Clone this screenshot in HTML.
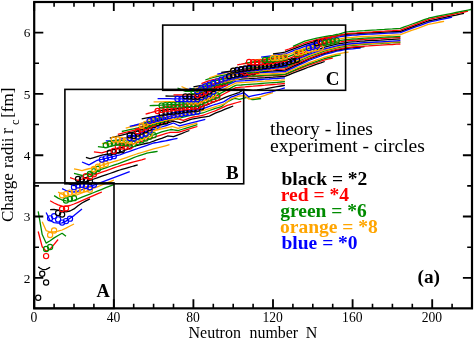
<!DOCTYPE html>
<html><head><meta charset="utf-8"><title>Charge radii</title>
<style>html,body{margin:0;padding:0;background:#fff}svg{display:block;will-change:transform;opacity:0.9999}</style></head>
<body>
<svg width="474" height="339" viewBox="0 0 474 339">
<rect width="474" height="339" fill="#fff"/>
<g fill="none" stroke-width="1.3" stroke-linejoin="round">
<path d="M38.2,266.9 L40.2,268.2 L42.2,269.3 L44.2,269.6 L46.1,269.3 L48.1,268.4 L50.1,267.2" stroke="#000000"/>
<path d="M38.2,231.5 L42.2,246.8 L46.1,251.1 L50.1,249.2 L54.1,244.4 L58.1,239.5" stroke="#ff0000"/>
<path d="M38.2,211.3 L42.2,234.6 L46.1,243.1 L50.1,240.7 L54.1,237.9 L58.1,235.5 L62.1,233.3 L66.0,236.3" stroke="#008b00"/>
<path d="M42.2,221.7 L46.1,230.6 L50.1,232.0 L54.1,231.8 L58.1,231.2 L62.1,230.0 L66.0,228.1 L70.0,226.0 L74.0,224.0" stroke="#ffa500"/>
<path d="M46.1,212.5 L50.1,220.5 L54.1,222.6 L58.1,223.2 L62.1,222.9 L66.0,221.1 L70.0,218.3 L74.0,215.6 L78.0,212.2 L82.0,208.9" stroke="#0000ff"/>
<path d="M50.1,209.7 L54.1,209.5 L58.1,210.1 L62.1,211.0 L66.0,211.8 L70.0,211.0 L74.0,208.9 L78.0,205.8 L82.0,203.0 L85.9,200.9 L89.9,198.9" stroke="#000000"/>
<path d="M50.1,200.8 L54.1,203.0 L58.1,204.9 L62.1,206.1 L66.0,206.4 L70.0,205.5 L74.0,204.0 L78.0,202.3 L82.0,200.6 L85.9,198.9 L89.9,197.1 L93.9,195.4 L97.9,193.7 L101.9,192.0" stroke="#ff0000"/>
<path d="M54.1,195.6 L58.1,198.1 L62.1,200.0 L66.0,200.9 L70.0,201.2 L74.0,200.3 L78.0,198.8 L82.0,197.2 L85.9,195.6 L89.9,194.1 L93.9,192.5 L97.9,190.9 L101.9,189.3 L105.8,187.7 L109.8,186.1 L113.8,184.6" stroke="#008b00"/>
<path d="M58.1,192.1 L62.1,194.2 L66.0,195.7 L70.0,196.3 L74.0,196.0 L78.0,194.5 L82.0,192.9 L85.9,191.4 L89.9,189.8 L93.9,188.2 L97.9,186.6 L101.9,185.0 L105.8,183.4 L109.8,181.8 L113.8,180.2" stroke="#ffa500"/>
<path d="M62.1,188.7 L66.0,190.5 L70.0,191.7 L74.0,192.0 L78.0,191.1 L82.0,189.7 L85.9,188.2 L89.9,186.7 L93.9,185.2 L97.9,183.7 L101.9,182.2 L105.8,180.7 L109.8,179.2 L113.8,177.7 L117.8,176.2 L121.8,174.7 L125.7,173.2 L129.7,171.7" stroke="#0000ff"/>
<path d="M66.0,182.5 L70.0,184.1 L74.0,185.6 L78.0,184.3 L82.0,183.0 L85.9,181.7 L89.9,180.4 L93.9,179.0 L97.9,177.6 L101.9,176.2 L105.8,174.9 L109.8,173.5 L113.8,172.1 L117.8,170.7 L119.8,170.0 L121.8,169.4 L125.7,168.3 L129.7,167.2 L133.7,166.0 L137.7,164.9" stroke="#000000"/>
<path d="M70.0,177.6 L74.0,179.0 L78.0,180.4 L82.0,179.1 L85.9,177.7 L89.9,176.4 L93.9,175.0 L97.9,173.6 L101.9,172.2 L105.8,170.8 L109.8,169.3 L113.8,167.9 L117.8,166.5 L119.8,165.8 L121.8,165.2 L125.7,164.1 L129.7,163.0 L133.7,161.9 L137.7,160.8 L141.7,159.8 L145.6,158.7" stroke="#ff0000"/>
<path d="M74.0,173.4 L78.0,174.4 L82.0,175.5 L85.9,174.3 L89.9,173.0 L93.9,171.7 L97.9,170.4 L101.9,169.1 L105.8,167.8 L109.8,166.5 L113.8,165.2 L117.8,163.9 L119.8,163.2 L121.8,162.4 L125.7,160.8 L129.7,159.3 L133.7,157.7 L136.7,156.5 L137.7,156.2 L141.7,154.9 L145.6,153.6 L146.8,153.2 L149.6,152.7 L153.6,152.0 L157.6,151.4" stroke="#008b00"/>
<path d="M74.0,168.8 L78.0,169.7 L82.0,170.6 L85.9,169.5 L89.9,168.5 L93.9,167.3 L97.9,166.2 L101.9,165.1 L105.8,164.0 L109.8,162.8 L113.8,161.6 L117.8,160.5 L119.8,159.9 L121.8,159.2 L125.7,157.8 L129.7,156.4 L133.7,155.0 L136.7,154.0 L137.7,153.7 L141.7,152.5 L145.6,151.3 L149.6,150.1 L153.6,148.9 L157.6,147.8 L161.6,146.8 L165.5,145.8 L169.5,144.7" stroke="#ffa500"/>
<path d="M82.0,162.0 L85.9,163.7 L88.9,164.9 L89.9,164.4 L93.9,162.1 L96.7,160.5 L97.9,160.2 L101.9,159.3 L105.8,158.3 L109.8,157.3 L113.8,156.3 L117.8,155.3 L119.8,154.8 L121.8,154.1 L125.7,152.7 L129.7,151.3 L133.7,149.9 L136.7,148.9 L137.7,148.5 L141.7,147.1 L145.6,145.8 L149.6,144.4 L153.6,143.0 L157.6,142.3 L161.6,141.5 L165.5,140.8 L167.1,140.5 L169.5,140.0 L173.5,139.2 L177.5,138.4" stroke="#0000ff"/>
<path d="M85.9,157.3 L89.9,158.6 L90.3,158.7 L93.9,157.6 L97.9,156.4 L101.9,155.2 L103.1,154.8 L105.8,154.4 L109.8,153.8 L113.8,153.2 L117.8,152.6 L119.8,152.3 L121.8,151.5 L125.7,149.9 L129.7,148.3 L133.7,146.7 L136.7,145.5 L137.7,145.3 L141.7,144.4 L145.6,143.5 L149.6,142.6 L149.8,142.5 L153.6,141.2 L157.6,139.7 L161.6,138.3 L165.5,136.8 L167.5,136.0 L169.5,136.2 L173.5,136.6 L177.5,135.1 L181.5,133.6 L185.4,132.0 L189.4,130.5" stroke="#000000"/>
<path d="M93.9,151.9 L97.9,152.4 L101.9,152.9 L105.8,151.7 L109.8,150.6 L113.8,149.5 L117.8,148.3 L121.8,147.1 L125.7,146.0 L129.7,144.8 L133.7,143.6 L137.7,142.5 L141.7,141.3 L145.6,140.1 L149.6,139.0 L149.8,138.9 L153.6,137.6 L157.6,136.2 L161.6,134.8 L165.5,133.7 L169.5,132.5 L169.9,132.4 L173.5,132.4 L177.5,132.4 L178.1,132.4 L181.5,131.4 L185.4,130.1 L189.4,128.9 L193.4,127.7 L197.4,126.5" stroke="#ff0000"/>
<path d="M97.9,146.7 L101.9,147.2 L105.8,147.7 L109.8,146.7 L113.8,145.7 L117.8,144.6 L121.8,143.6 L125.7,142.6 L129.7,141.6 L133.7,140.5 L137.7,139.5 L141.7,138.5 L145.6,137.4 L149.6,136.4 L149.8,136.3 L153.6,134.9 L157.6,133.3 L161.6,131.8 L165.5,130.8 L169.5,129.9 L171.1,129.5 L173.5,129.9 L177.5,130.5 L178.1,130.6 L181.5,129.5 L185.4,128.3 L189.4,127.1 L193.4,125.9 L197.4,124.7" stroke="#008b00"/>
<path d="M101.9,143.4 L105.8,143.7 L109.8,144.0 L113.8,142.8 L117.8,141.6 L121.8,140.4 L125.7,139.2 L129.7,138.0 L133.7,136.8 L137.7,135.5 L141.7,134.3 L145.6,133.1 L149.6,131.9 L149.8,131.8 L153.6,130.9 L157.6,129.9 L161.6,128.9 L165.5,128.0 L169.5,127.1 L172.3,126.5 L173.5,126.9 L177.5,128.1 L178.1,128.3 L181.5,127.4 L185.4,126.3 L189.4,125.2 L193.4,124.1 L197.4,123.0" stroke="#ffa500"/>
<path d="M105.8,140.8 L109.8,141.0 L113.8,141.2 L117.8,140.1 L121.8,138.9 L125.7,137.7 L129.7,136.6 L133.7,135.4 L137.7,134.2 L141.7,133.0 L145.6,131.8 L149.6,130.6 L153.6,129.4 L157.6,128.2 L161.6,127.0 L165.1,125.9 L165.5,125.8 L169.5,124.4 L173.5,123.0 L177.5,125.0 L179.5,125.9 L181.5,125.4 L185.4,124.4 L189.4,123.4 L193.4,122.4 L197.4,121.4 L201.4,120.4 L205.3,119.4" stroke="#0000ff"/>
<path d="M109.8,138.2 L113.8,137.2 L117.8,136.2 L121.8,135.1 L125.7,134.1 L129.7,133.0 L133.7,132.0 L137.7,130.9 L141.7,129.8 L145.6,128.8 L149.6,127.7 L153.6,126.6 L157.6,125.5 L161.6,124.5 L165.5,123.4 L169.5,122.3 L173.5,121.2 L177.5,122.2 L180.5,123.0 L181.5,122.6 L185.4,121.3 L189.4,119.9 L191.8,119.1 L193.4,118.8 L197.4,118.1 L201.4,117.4 L205.3,116.8 L209.3,116.1 L213.3,114.1 L215.3,113.1 L217.3,112.3 L221.3,110.8 L225.2,109.2 L229.2,107.6 L233.2,106.0" stroke="#000000"/>
<path d="M117.8,134.4 L121.8,133.4 L125.7,132.4 L129.7,131.3 L133.7,130.3 L137.7,129.3 L141.7,128.3 L145.6,127.2 L149.6,126.2 L153.6,125.2 L157.6,124.1 L161.6,123.1 L165.5,122.0 L169.5,121.0 L173.5,119.9 L177.5,118.9 L181.5,119.9 L183.4,120.4 L185.4,119.7 L189.4,118.2 L191.8,117.3 L193.4,117.0 L197.4,116.3 L201.4,115.6 L203.5,115.2 L205.3,114.5 L209.3,113.0 L213.3,111.5 L215.3,110.8 L217.3,109.9 L221.3,108.1 L225.2,106.3 L227.2,105.4 L229.2,104.8 L233.2,103.7 L237.2,102.5 L241.2,101.3" stroke="#ff0000"/>
<path d="M121.8,131.5 L125.7,130.6 L129.7,129.7 L133.7,128.8 L137.7,127.9 L141.7,126.9 L145.6,126.0 L149.6,125.1 L153.6,124.2 L157.6,123.2 L161.6,122.3 L165.5,121.4 L169.5,120.4 L173.5,119.5 L177.5,118.5 L181.5,117.6 L185.4,116.7 L189.4,115.7 L191.8,115.2 L193.4,114.8 L197.4,113.9 L201.4,113.1 L203.5,112.6 L205.3,112.0 L209.3,110.5 L213.3,109.1 L215.3,108.4 L217.3,107.8 L221.3,106.7 L225.2,103.5 L227.2,101.9 L229.2,100.9 L233.2,98.9 L234.2,98.4 L237.2,98.9 L239.2,99.3 L241.2,98.8 L245.1,97.8 L247.1,97.3 L249.1,98.2 L252.1,99.6 L253.1,99.5 L257.1,99.0 L261.1,98.5" stroke="#008b00"/>
<path d="M125.7,128.1 L129.7,127.2 L133.7,126.3 L137.7,125.4 L141.7,124.5 L145.6,123.7 L149.6,122.8 L153.6,121.9 L157.6,121.0 L161.6,120.0 L165.5,119.1 L169.5,118.2 L173.5,117.3 L177.5,116.4 L181.5,115.5 L185.4,114.6 L189.4,113.7 L191.8,113.1 L193.4,112.8 L197.4,111.9 L201.4,110.9 L203.5,110.4 L205.3,109.9 L209.3,108.6 L213.3,107.3 L215.3,106.7 L217.3,106.0 L221.3,104.8 L224.8,103.7 L225.2,103.4 L229.2,100.3 L230.8,99.0 L233.2,98.1 L237.2,96.7 L239.0,96.0 L241.2,95.9 L245.1,95.8 L248.7,99.1 L249.1,99.0 L253.1,98.3 L257.1,97.6 L259.1,97.3 L261.1,96.6 L265.0,95.3 L269.0,93.9 L273.0,92.6" stroke="#ffa500"/>
<path d="M129.7,126.4 L133.7,125.5 L137.7,124.5 L141.7,123.5 L145.6,122.6 L149.6,121.6 L153.6,120.6 L157.6,119.6 L161.6,118.6 L165.5,117.7 L169.5,116.7 L173.5,115.7 L177.5,114.7 L181.5,113.7 L185.4,112.7 L189.4,111.7 L191.8,111.1 L193.4,110.8 L197.4,109.8 L201.4,108.9 L203.5,108.4 L205.3,107.8 L209.3,106.4 L213.3,105.0 L215.3,104.3 L217.3,103.8 L221.3,102.6 L223.6,101.9 L225.2,100.9 L229.2,98.3 L230.8,97.2 L233.2,96.3 L237.2,94.9 L239.0,94.2 L241.2,93.6 L243.9,92.7 L245.1,93.7 L248.7,96.7 L249.1,96.6 L253.1,95.7 L257.1,94.9 L261.1,94.1 L265.0,93.2 L269.0,92.4 L271.0,92.0 L273.0,91.4 L277.0,90.2 L281.0,89.0 L284.9,87.8" stroke="#0000ff"/>
<path d="M141.7,118.8 L145.6,118.1 L149.6,117.3 L153.6,116.6 L157.6,115.9 L161.6,115.1 L165.5,114.4 L169.5,113.7 L173.5,112.9 L177.5,112.2 L181.5,111.5 L185.4,110.7 L189.4,110.0 L193.4,109.2 L197.4,108.5 L201.4,106.9 L205.3,105.4 L209.3,103.8 L213.3,102.2 L217.3,100.6 L220.1,99.6 L221.3,99.1 L225.2,97.4 L227.2,96.6 L229.2,95.9 L233.2,94.5 L237.2,93.1 L239.0,92.5 L241.2,91.2 L243.9,89.5 L245.1,89.6 L249.1,90.0 L253.1,90.4 L257.1,89.9 L261.1,89.3 L265.0,88.8 L269.0,88.1 L273.0,87.4 L277.0,86.7 L281.0,86.0 L284.9,85.4" stroke="#000000"/>
<path d="M145.6,114.1 L149.6,113.0 L153.6,111.8 L157.6,110.6 L161.6,110.2 L165.5,109.7 L169.5,109.3 L173.5,108.8 L177.5,108.4 L181.5,107.9 L185.4,107.4 L189.4,107.0 L193.4,106.5 L197.4,106.0 L201.4,104.3 L205.3,102.6 L209.3,100.9 L213.3,99.2 L217.3,97.5 L221.3,95.4 L225.2,93.3 L229.2,91.2 L233.2,89.0 L235.8,87.7 L237.2,87.6 L241.2,87.2 L245.1,86.9 L249.1,86.5 L253.1,86.2 L257.1,85.8 L261.1,85.5 L265.0,85.2 L269.0,84.8 L273.0,84.5 L277.0,84.2 L281.0,83.8 L284.9,83.5" stroke="#ff0000"/>
<path d="M149.6,105.7 L153.6,105.5 L157.6,105.3 L161.6,105.1 L165.5,104.9 L169.5,104.7 L173.5,104.5 L177.5,104.3 L181.5,104.1 L185.4,103.9 L189.4,103.7 L193.4,103.5 L197.4,103.3 L201.4,101.6 L205.3,100.0 L209.3,98.3 L213.3,96.7 L217.3,95.0 L221.3,92.9 L225.2,90.9 L229.2,88.8 L233.2,86.7 L235.8,85.4 L237.2,85.2 L241.2,85.0 L245.1,84.7 L249.1,84.4 L253.1,84.1 L257.1,83.8 L261.1,83.5 L265.0,83.2 L269.0,82.9 L273.0,82.6 L277.0,82.3 L281.0,82.0 L284.9,81.7" stroke="#008b00"/>
<path d="M153.6,101.9 L157.6,101.9 L161.6,101.8 L165.5,101.7 L169.5,101.7 L173.5,101.6 L177.5,101.5 L181.5,101.5 L185.4,101.4 L189.4,101.3 L193.4,101.2 L197.4,101.1 L201.4,99.5 L205.3,97.8 L209.3,96.1 L213.3,94.4 L217.3,92.4 L221.3,90.4 L225.2,88.3 L229.2,86.3 L233.2,84.3 L235.8,83.0 L237.2,82.9 L241.2,82.6 L245.1,82.4 L249.1,82.1 L253.1,81.8 L257.1,81.6 L261.1,81.3 L265.0,81.1 L269.0,80.8 L273.0,80.6 L277.0,80.3 L281.0,80.1 L284.9,79.8" stroke="#ffa500"/>
<path d="M157.6,98.6 L161.6,98.6 L165.5,98.7 L169.5,98.7 L173.5,98.8 L177.5,98.8 L181.5,98.9 L185.4,98.9 L189.4,98.9 L193.4,99.0 L197.4,99.0 L201.4,97.2 L205.3,95.3 L209.3,93.5 L213.3,91.7 L217.3,89.8 L221.3,88.0 L225.2,86.1 L229.2,84.2 L233.2,82.4 L235.8,81.2 L237.2,81.1 L241.2,80.8 L245.1,80.6 L249.1,80.3 L253.1,80.0 L257.1,79.8 L261.1,79.5 L265.0,79.2 L269.0,79.0 L273.0,78.7 L277.0,78.5 L281.0,78.2 L284.9,77.9" stroke="#0000ff"/>
<path d="M165.5,96.0 L169.5,96.1 L173.5,96.2 L177.5,96.2 L181.5,96.3 L185.4,96.4 L189.4,96.4 L193.4,96.5 L197.4,96.6 L201.4,94.8 L205.3,93.0 L209.3,91.2 L213.3,89.5 L217.3,87.7 L221.3,85.9 L225.2,84.1 L229.2,82.3 L233.2,80.6 L235.8,79.4 L237.2,79.3 L241.2,79.1 L245.1,78.8 L249.1,78.6 L253.1,78.3 L257.1,78.1 L261.1,77.8 L265.0,77.6 L269.0,77.3 L273.0,77.1 L277.0,76.8 L281.0,76.6 L284.9,76.4 L288.9,74.8 L292.9,73.2 L296.9,71.7 L300.9,70.1 L304.8,68.6 L308.8,67.0 L309.4,66.8 L312.8,65.6 L316.8,64.2 L320.8,62.9 L324.7,61.5" stroke="#000000"/>
<path d="M173.5,94.8 L177.5,94.8 L181.5,94.8 L185.4,94.8 L189.4,94.7 L193.4,94.7 L197.4,94.7 L201.4,93.1 L205.3,91.4 L209.3,89.7 L213.3,88.1 L217.3,86.4 L221.3,84.8 L225.2,83.1 L229.2,81.0 L233.2,78.9 L235.8,77.6 L237.2,77.5 L241.2,77.3 L245.1,77.1 L249.1,76.8 L253.1,76.6 L257.1,76.4 L261.1,76.2 L265.0,75.9 L269.0,75.7 L273.0,75.5 L277.0,75.3 L281.0,75.0 L284.9,74.8 L288.9,73.2 L292.9,71.5 L296.9,69.9 L300.9,68.3 L304.8,66.7 L308.8,65.2 L312.8,63.8 L316.8,62.5 L320.8,61.2 L324.7,59.9 L328.7,58.9 L332.7,58.0" stroke="#ff0000"/>
<path d="M177.5,88.0 L181.5,89.7 L185.4,91.4 L189.4,91.4 L193.4,91.4 L197.4,91.4 L201.4,89.9 L205.3,88.5 L209.3,87.1 L213.3,85.7 L217.3,84.3 L221.3,82.9 L225.2,81.4 L229.2,80.0 L233.2,78.9 L237.2,77.8 L241.2,76.7 L245.1,76.5 L249.1,76.2 L253.1,76.0 L257.1,75.8 L261.1,75.6 L265.0,75.4 L269.0,75.2 L273.0,75.0 L277.0,74.8 L281.0,74.6 L284.9,74.4 L288.9,72.6 L292.9,70.9 L296.9,69.1 L300.9,67.4 L304.8,65.8 L308.8,64.1 L312.8,62.7 L316.8,61.3 L320.8,59.9 L324.7,58.5 L328.7,57.5 L332.7,56.5 L336.7,55.5 L340.7,54.8" stroke="#008b00"/>
<path d="M181.5,86.5 L185.4,88.3 L189.4,90.1 L193.4,90.1 L197.4,90.1 L201.4,88.8 L205.3,87.4 L209.3,86.1 L213.3,84.8 L217.3,83.4 L221.3,82.1 L225.2,80.7 L229.2,79.4 L233.2,78.0 L237.2,76.7 L241.2,76.1 L245.1,75.4 L249.1,74.8 L253.1,74.6 L257.1,74.4 L261.1,74.2 L265.0,74.0 L269.0,73.8 L273.0,73.6 L277.0,73.4 L281.0,73.2 L284.9,73.0 L288.9,71.2 L292.9,69.5 L296.9,67.7 L300.9,66.1 L304.8,64.4 L308.8,62.7 L312.8,61.3 L316.8,59.9 L320.8,58.5 L324.7,57.1 L328.7,56.1 L332.7,55.1 L336.7,54.1 L340.7,53.4 L344.6,52.7 L348.6,52.2" stroke="#ffa500"/>
<path d="M189.4,88.3 L193.4,88.8 L197.4,89.2 L201.4,87.9 L205.3,86.7 L209.3,85.4 L213.3,84.1 L217.3,82.8 L221.3,81.6 L225.2,80.3 L229.2,79.0 L233.2,77.7 L237.2,76.5 L241.2,75.2 L245.1,73.9 L249.1,73.5 L253.1,73.1 L257.1,72.7 L261.1,72.5 L265.0,72.4 L269.0,72.2 L273.0,72.1 L277.0,71.9 L281.0,71.7 L284.9,71.6 L288.9,69.7 L292.9,67.8 L296.9,65.9 L300.9,64.1 L304.8,62.3 L308.8,60.5 L312.8,59.0 L316.8,57.5 L320.8,56.0 L324.7,54.4 L328.7,53.4 L332.7,52.3 L336.7,51.2 L340.7,50.5 L344.6,49.7 L348.6,49.1 L352.6,48.8 L356.6,48.4 L360.6,48.1" stroke="#0000ff"/>
<path d="M193.4,86.9 L197.4,86.2 L201.4,85.5 L205.3,84.2 L209.3,82.8 L213.3,81.5 L217.3,80.1 L221.3,78.8 L225.2,77.4 L229.2,76.1 L233.2,75.4 L237.2,74.7 L241.2,74.1 L245.1,73.4 L249.1,72.7 L253.1,72.1 L257.1,71.8 L261.1,71.6 L265.0,71.4 L269.0,71.1 L273.0,70.9 L277.0,70.6 L281.0,70.4 L284.9,70.2 L288.9,68.3 L292.9,66.4 L296.9,64.6 L300.9,62.8 L304.8,61.0 L308.8,59.2 L312.8,57.7 L316.8,56.2 L320.8,54.7 L324.7,53.3 L328.7,52.2 L332.7,51.1 L336.7,50.1 L340.7,49.3 L344.6,48.6 L348.6,48.0 L352.6,47.7 L356.6,47.3 L360.6,47.0 L364.5,46.7" stroke="#000000"/>
<path d="M201.4,83.7 L205.3,82.2 L209.3,80.6 L213.3,79.7 L217.3,78.8 L221.3,77.9 L225.2,77.0 L229.2,76.1 L233.2,75.1 L237.2,74.2 L241.2,73.3 L245.1,72.4 L249.1,71.9 L253.1,71.4 L257.1,70.9 L261.1,70.6 L265.0,70.3 L269.0,70.0 L273.0,69.7 L277.0,69.4 L281.0,69.1 L284.9,68.8 L288.9,67.0 L292.9,65.2 L296.9,63.4 L300.9,61.7 L304.8,60.0 L308.8,58.3 L312.8,56.8 L316.8,55.4 L320.8,53.9 L324.7,52.5 L328.7,51.4 L332.7,50.4 L336.7,49.4 L340.7,48.7 L344.6,47.9 L348.6,47.4 L352.6,47.0 L356.6,46.7 L360.6,46.4 L364.5,46.1 L368.5,45.9 L372.5,45.6 L376.5,45.4 L380.5,45.2 L384.4,44.9 L388.4,44.7 L392.4,44.5 L396.4,44.2 L400.4,44.0" stroke="#ff0000"/>
<path d="M205.3,80.0 L209.3,78.7 L213.3,77.3 L217.3,76.5 L221.3,75.7 L225.2,74.9 L229.2,74.2 L233.2,73.4 L237.2,72.6 L241.2,71.8 L245.1,71.0 L249.1,70.2 L253.1,69.8 L257.1,69.3 L261.1,68.9 L265.0,68.4 L269.0,68.2 L273.0,68.0 L277.0,67.8 L281.0,67.6 L284.9,67.4 L288.9,65.6 L292.9,63.8 L296.9,61.9 L300.9,60.2 L304.8,58.5 L308.8,56.7 L312.8,55.2 L316.8,53.8 L320.8,52.3 L324.7,50.8 L328.7,49.8 L332.7,48.8 L336.7,47.8 L340.7,47.0 L344.6,46.3 L348.6,45.7 L352.6,45.4 L356.6,45.0 L360.6,44.7 L364.5,44.4 L368.5,44.2 L372.5,43.9 L376.5,43.7 L380.5,43.5 L384.4,43.2 L388.4,43.0 L392.4,42.7 L396.4,42.5 L400.4,42.3" stroke="#008b00"/>
<path d="M209.3,77.9 L213.3,76.5 L217.3,75.1 L221.3,74.1 L225.2,73.1 L229.2,72.2 L233.2,71.2 L237.2,70.7 L241.2,70.3 L245.1,69.9 L249.1,69.4 L253.1,69.0 L257.1,68.6 L261.1,68.2 L265.0,67.7 L269.0,67.3 L273.0,66.9 L277.0,66.6 L281.0,66.3 L284.9,66.0 L288.9,64.2 L292.9,62.5 L296.9,60.7 L300.9,59.0 L304.8,57.3 L308.8,55.6 L312.8,54.2 L316.8,52.8 L320.8,51.4 L324.7,50.0 L328.7,49.0 L332.7,48.0 L336.7,47.0 L340.7,46.2 L344.6,45.5 L348.6,45.0 L352.6,44.7 L356.6,44.3 L360.6,44.0 L364.5,43.7 L368.5,43.5 L372.5,43.3 L376.5,43.0 L380.5,42.8 L384.4,42.6 L388.4,42.3 L392.4,42.1 L396.4,41.9 L400.4,41.7" stroke="#ffa500"/>
<path d="M217.3,74.2 L221.3,73.3 L225.2,72.4 L229.2,71.7 L233.2,71.0 L237.2,70.2 L241.2,69.8 L245.1,69.3 L249.1,68.8 L253.1,68.4 L257.1,67.9 L261.1,67.4 L265.0,67.0 L269.0,66.5 L273.0,66.0 L277.0,65.5 L281.0,65.1 L284.9,64.6 L288.9,62.9 L292.9,61.1 L296.9,59.4 L300.9,57.7 L304.8,56.1 L308.8,54.4 L312.8,53.0 L316.8,51.6 L320.8,50.2 L324.7,48.8 L328.7,47.9 L332.7,46.9 L336.7,45.9 L340.7,45.2 L344.6,44.5 L348.6,44.0 L352.6,43.6 L356.6,43.3 L360.6,43.0 L364.5,42.7 L368.5,42.5 L372.5,42.3 L376.5,42.0 L380.5,41.8 L384.4,41.6 L388.4,41.4 L392.4,41.1 L396.4,40.9 L400.4,40.7" stroke="#0000ff"/>
<path d="M221.3,72.4 L225.2,71.9 L229.2,71.4 L233.2,70.9 L237.2,70.3 L241.2,69.7 L245.1,69.1 L249.1,68.5 L253.1,67.9 L257.1,67.3 L261.1,66.7 L265.0,66.1 L269.0,65.6 L273.0,65.0 L277.0,64.4 L281.0,63.8 L284.9,63.2 L288.9,61.4 L292.9,59.7 L296.9,57.9 L300.9,56.2 L304.8,54.5 L308.8,52.9 L312.8,51.4 L316.8,50.0 L320.8,48.6 L324.7,47.2 L328.7,46.2 L332.7,45.2 L336.7,44.2 L340.7,43.5 L344.6,42.8 L348.6,42.2 L352.6,41.9 L356.6,41.6 L360.6,41.2 L364.5,41.0 L368.5,40.7 L372.5,40.5 L376.5,40.3 L380.5,40.1 L384.4,39.8 L388.4,39.6 L392.4,39.4 L396.4,39.1 L400.4,38.9" stroke="#000000"/>
<path d="M237.2,64.8 L241.2,64.2 L245.1,63.5 L249.1,62.9 L253.1,62.6 L257.1,62.3 L261.1,62.0 L265.0,61.7 L269.0,61.4 L273.0,61.1 L277.0,60.8 L281.0,60.4 L284.9,60.1 L288.9,58.5 L292.9,56.8 L296.9,55.2 L300.9,53.6 L304.8,52.1 L308.8,50.5 L312.8,49.2 L316.8,47.9 L320.8,46.5 L324.7,45.2 L328.7,44.3 L332.7,43.4 L336.7,42.4 L340.7,41.8 L344.6,41.1 L348.6,40.6 L352.6,40.3 L356.6,40.0 L360.6,39.7 L364.5,39.4 L368.5,39.2 L372.5,39.0 L376.5,38.8 L380.5,38.6 L384.4,38.4 L388.4,38.1 L392.4,37.9 L396.4,37.7 L400.4,37.5" stroke="#ff0000"/>
<path d="M245.1,63.2 L249.1,62.6 L253.1,62.0 L257.1,61.4 L261.1,60.8 L265.0,60.1 L269.0,59.7 L273.0,59.2 L277.0,58.8 L281.0,58.3 L284.9,57.9 L288.9,56.3 L292.9,54.8 L296.9,53.2 L300.9,51.7 L304.8,50.2 L308.8,48.7 L312.8,47.5 L316.8,46.2 L320.8,45.0 L324.7,43.7 L328.7,42.8 L332.7,42.0 L336.7,41.1 L340.7,40.4 L344.6,39.8 L348.6,39.3 L352.6,39.0 L356.6,38.8 L360.6,38.5 L364.5,38.2 L368.5,38.0 L372.5,37.8 L376.5,37.6 L380.5,37.4 L384.4,37.2 L388.4,37.0 L392.4,36.8 L396.4,36.6 L400.4,36.4" stroke="#008b00"/>
<path d="M253.1,60.1 L257.1,59.7 L261.1,59.3 L265.0,58.9 L269.0,58.4 L273.0,58.0 L277.0,57.3 L281.0,56.6 L284.9,55.9 L288.9,54.3 L292.9,52.8 L296.9,51.2 L300.9,49.8 L304.8,48.3 L308.8,46.8 L312.8,45.6 L316.8,44.4 L320.8,43.1 L324.7,41.9 L328.7,41.0 L332.7,40.2 L336.7,39.3 L340.7,38.7 L344.6,38.0 L348.6,37.6 L352.6,37.3 L356.6,37.0 L360.6,36.7 L364.5,36.5 L368.5,36.3 L372.5,36.1 L376.5,35.9 L380.5,35.7 L384.4,35.5 L388.4,35.3 L392.4,35.1 L396.4,34.9 L400.4,34.7 L404.3,33.2 L408.3,31.7 L412.3,30.2 L416.3,28.8 L420.3,27.3 L424.2,25.8 L428.2,24.3 L432.2,23.6 L436.2,22.8 L440.2,22.0 L444.1,21.3" stroke="#ffa500"/>
<path d="M261.1,57.1 L265.0,56.6 L269.0,56.1 L273.0,55.6 L277.0,55.0 L281.0,54.5 L284.9,54.0 L288.9,52.5 L292.9,50.9 L296.9,49.4 L300.9,47.9 L304.8,46.4 L308.8,44.9 L312.8,43.7 L316.8,42.4 L320.8,41.2 L324.7,39.9 L328.7,39.0 L332.7,38.1 L336.7,37.3 L340.7,36.6 L344.6,36.0 L348.6,35.5 L352.6,35.2 L356.6,35.0 L360.6,34.7 L364.5,34.4 L368.5,34.2 L372.5,34.0 L376.5,33.8 L380.5,33.6 L384.4,33.4 L388.4,33.2 L392.4,33.0 L396.4,32.8 L400.4,32.6 L404.3,31.1 L408.3,29.7 L412.3,28.2 L416.3,26.7 L420.3,25.3 L424.2,23.8 L428.2,22.3 L432.2,21.4 L436.2,20.6 L440.2,19.7 L444.1,18.8 L448.1,18.0 L452.1,17.1" stroke="#0000ff"/>
<path d="M273.0,54.0 L277.0,53.4 L281.0,52.8 L284.9,52.2 L288.9,50.7 L292.9,49.2 L296.9,47.6 L300.9,46.2 L304.8,44.7 L308.8,43.3 L312.8,42.1 L316.8,40.9 L320.8,39.6 L324.7,38.4 L328.7,37.6 L332.7,36.7 L336.7,35.9 L340.7,35.2 L344.6,34.6 L348.6,34.2 L352.6,33.9 L356.6,33.6 L360.6,33.3 L364.5,33.1 L368.5,32.9 L372.5,32.7 L376.5,32.5 L380.5,32.3 L384.4,32.1 L388.4,31.9 L392.4,31.7 L396.4,31.5 L400.4,31.3 L404.3,29.8 L408.3,28.4 L412.3,26.9 L416.3,25.4 L420.3,23.9 L424.2,22.4 L428.2,21.0 L432.2,20.1 L436.2,19.3 L440.2,18.4 L444.1,17.6 L448.1,16.7 L452.1,15.9 L456.1,15.1 L460.1,14.2 L464.0,13.4" stroke="#000000"/>
<path d="M284.9,50.3 L288.9,49.0 L292.9,47.6 L296.9,46.1 L300.9,44.5 L304.8,43.0 L308.8,41.9 L312.8,40.8 L316.8,39.6 L320.8,38.9 L324.7,38.2 L328.7,37.5 L332.7,36.7 L336.7,36.0 L338.7,35.7 L340.7,35.1 L344.6,34.1 L346.6,33.5 L348.6,33.4 L352.6,33.1 L356.6,32.9 L360.6,32.6 L364.5,32.4 L368.5,32.1 L372.5,31.9 L376.5,31.6 L380.5,31.3 L384.4,31.1 L388.4,30.8 L392.4,30.6 L396.4,30.3 L400.4,30.1 L404.3,28.6 L408.3,27.1 L412.3,25.6 L416.3,24.1 L420.3,22.6 L424.2,21.1 L428.2,19.6 L432.2,18.7 L436.2,17.9 L440.2,17.0 L444.1,16.2 L448.1,15.4 L452.1,14.5 L456.1,13.7 L460.1,12.9 L464.0,12.0 L468.0,11.2" stroke="#ff0000"/>
<path d="M292.9,46.3 L296.9,44.6 L300.9,42.9 L304.8,41.2 L308.8,40.1 L312.8,39.1 L316.8,38.1 L320.8,37.4 L324.7,36.7 L328.7,36.0 L332.7,35.3 L336.7,34.5 L338.7,34.2 L340.7,33.6 L344.6,32.4 L346.6,31.8 L348.6,31.7 L352.6,31.4 L356.6,31.2 L360.6,30.9 L364.5,30.7 L368.5,30.4 L372.5,30.1 L376.5,29.9 L380.5,29.6 L384.4,29.4 L388.4,29.1 L392.4,28.9 L396.4,28.6 L400.4,28.4 L404.3,26.9 L408.3,25.5 L412.3,24.0 L416.3,22.6 L420.3,21.2 L424.2,19.7 L428.2,18.3 L429.2,17.9 L432.2,17.3 L436.2,16.5 L440.2,15.7 L444.1,14.9 L448.1,14.1 L452.1,13.3 L456.1,12.5 L460.1,11.7 L464.0,10.9 L468.0,10.1 L471.0,9.5" stroke="#008b00"/>
</g>
<g fill="none" stroke-width="1.15">
<g stroke="#000000"><circle cx="38.2" cy="297.7" r="2.6"/><circle cx="42.2" cy="273.8" r="2.6"/><circle cx="46.1" cy="282.5" r="2.6"/></g>
<g stroke="#ff0000"><circle cx="46.1" cy="256.1" r="2.6"/></g>
<g stroke="#008b00"><circle cx="46.1" cy="249.0" r="2.6"/><circle cx="50.1" cy="247.0" r="2.6"/></g>
<g stroke="#ffa500"><circle cx="50.1" cy="235.0" r="2.6"/><circle cx="54.1" cy="230.5" r="2.6"/></g>
<g stroke="#0000ff"><circle cx="50.1" cy="218.3" r="2.6"/><circle cx="54.1" cy="216.2" r="2.6"/><circle cx="58.1" cy="219.4" r="2.6"/><circle cx="62.1" cy="222.6" r="2.6"/><circle cx="66.0" cy="221.1" r="2.6"/><circle cx="70.0" cy="218.7" r="2.6"/></g>
<g stroke="#000000"><circle cx="58.1" cy="213.0" r="2.6"/><circle cx="62.1" cy="214.5" r="2.6"/></g>
<g stroke="#ff0000"><circle cx="62.1" cy="209.0" r="2.6"/><circle cx="66.0" cy="208.3" r="2.6"/></g>
<g stroke="#008b00"><circle cx="66.0" cy="200.5" r="2.6"/><circle cx="70.0" cy="199.1" r="2.6"/><circle cx="74.0" cy="198.2" r="2.6"/></g>
<g stroke="#ffa500"><circle cx="62.1" cy="195.3" r="2.6"/><circle cx="66.0" cy="194.1" r="2.6"/><circle cx="70.0" cy="192.6" r="2.6"/><circle cx="74.0" cy="191.8" r="2.6"/><circle cx="78.0" cy="190.3" r="2.6"/><circle cx="82.0" cy="189.8" r="2.6"/><circle cx="85.9" cy="189.2" r="2.6"/><circle cx="89.9" cy="189.7" r="2.6"/></g>
<g stroke="#0000ff"><circle cx="74.0" cy="187.2" r="2.6"/><circle cx="78.0" cy="185.4" r="2.6"/><circle cx="82.0" cy="184.8" r="2.6"/><circle cx="85.9" cy="186.1" r="2.6"/><circle cx="89.9" cy="187.3" r="2.6"/><circle cx="93.9" cy="184.8" r="2.6"/></g>
<g stroke="#000000"><circle cx="78.0" cy="179.0" r="2.6"/><circle cx="82.0" cy="179.3" r="2.6"/><circle cx="85.9" cy="180.2" r="2.6"/><circle cx="89.9" cy="181.5" r="2.6"/></g>
<g stroke="#ff0000"><circle cx="85.9" cy="176.1" r="2.6"/><circle cx="89.9" cy="177.0" r="2.6"/><circle cx="93.9" cy="174.3" r="2.6"/></g>
<g stroke="#008b00"><circle cx="89.9" cy="174.0" r="2.6"/><circle cx="93.9" cy="171.3" r="2.6"/><circle cx="97.9" cy="169.0" r="2.6"/></g>
<g stroke="#ffa500"><circle cx="93.9" cy="169.0" r="2.6"/><circle cx="97.9" cy="166.7" r="2.6"/><circle cx="101.9" cy="165.0" r="2.6"/><circle cx="105.8" cy="164.0" r="2.6"/></g>
<g stroke="#0000ff"><circle cx="101.9" cy="159.6" r="2.6"/><circle cx="105.8" cy="158.3" r="2.6"/><circle cx="109.8" cy="157.3" r="2.6"/><circle cx="113.8" cy="156.2" r="2.6"/></g>
<g stroke="#000000"><circle cx="109.8" cy="152.7" r="2.6"/><circle cx="113.8" cy="151.7" r="2.6"/><circle cx="117.8" cy="150.7" r="2.6"/><circle cx="121.8" cy="150.2" r="2.6"/></g>
<g stroke="#ff0000"><circle cx="113.8" cy="150.9" r="2.6"/><circle cx="117.8" cy="146.6" r="2.6"/><circle cx="121.8" cy="146.6" r="2.6"/><circle cx="125.7" cy="146.6" r="2.6"/><circle cx="129.7" cy="146.6" r="2.6"/></g>
<g stroke="#008b00"><circle cx="105.8" cy="145.2" r="2.6"/><circle cx="109.8" cy="143.7" r="2.6"/><circle cx="113.8" cy="142.8" r="2.6"/><circle cx="117.8" cy="142.7" r="2.6"/><circle cx="121.8" cy="143.1" r="2.6"/><circle cx="125.7" cy="143.4" r="2.6"/><circle cx="129.7" cy="143.6" r="2.6"/><circle cx="133.7" cy="143.9" r="2.6"/><circle cx="137.7" cy="141.9" r="2.6"/><circle cx="141.7" cy="140.3" r="2.6"/><circle cx="145.6" cy="138.5" r="2.6"/><circle cx="149.6" cy="136.8" r="2.6"/><circle cx="153.6" cy="135.2" r="2.6"/></g>
<g stroke="#ffa500"><circle cx="113.8" cy="139.5" r="2.6"/><circle cx="117.8" cy="139.5" r="2.6"/><circle cx="121.8" cy="140.0" r="2.6"/><circle cx="125.7" cy="140.5" r="2.6"/><circle cx="129.7" cy="141.1" r="2.6"/><circle cx="133.7" cy="141.5" r="2.6"/><circle cx="137.7" cy="139.2" r="2.6"/><circle cx="141.7" cy="137.3" r="2.6"/><circle cx="145.6" cy="135.6" r="2.6"/><circle cx="149.6" cy="134.4" r="2.6"/><circle cx="153.6" cy="128.4" r="2.6"/><circle cx="157.6" cy="127.0" r="2.6"/></g>
<g stroke="#0000ff"><circle cx="129.7" cy="138.0" r="2.6"/><circle cx="133.7" cy="138.7" r="2.6"/><circle cx="137.7" cy="136.5" r="2.6"/><circle cx="141.7" cy="134.8" r="2.6"/><circle cx="145.6" cy="133.7" r="2.6"/><circle cx="149.6" cy="130.6" r="2.6"/><circle cx="153.6" cy="125.1" r="2.6"/><circle cx="157.6" cy="123.8" r="2.6"/></g>
<g stroke="#000000"><circle cx="129.7" cy="135.2" r="2.6"/><circle cx="133.7" cy="135.9" r="2.6"/><circle cx="137.7" cy="133.6" r="2.6"/><circle cx="141.7" cy="131.6" r="2.6"/><circle cx="145.6" cy="130.1" r="2.6"/><circle cx="149.6" cy="127.8" r="2.6"/><circle cx="153.6" cy="125.1" r="2.6"/><circle cx="157.6" cy="123.0" r="2.6"/><circle cx="161.6" cy="122.2" r="2.6"/><circle cx="165.5" cy="121.5" r="2.6"/></g>
<g stroke="#ff0000"><circle cx="137.7" cy="131.2" r="2.6"/><circle cx="141.7" cy="129.3" r="2.6"/><circle cx="145.6" cy="127.4" r="2.6"/><circle cx="149.6" cy="125.7" r="2.6"/><circle cx="153.6" cy="123.9" r="2.6"/></g>
<g stroke="#008b00"><circle cx="145.6" cy="125.6" r="2.6"/><circle cx="149.6" cy="124.1" r="2.6"/><circle cx="153.6" cy="122.6" r="2.6"/><circle cx="157.6" cy="121.1" r="2.6"/><circle cx="161.6" cy="119.7" r="2.6"/></g>
<g stroke="#ffa500"><circle cx="141.7" cy="125.7" r="2.6"/><circle cx="145.6" cy="123.8" r="2.6"/><circle cx="149.6" cy="122.2" r="2.6"/><circle cx="153.6" cy="121.0" r="2.6"/><circle cx="157.6" cy="119.8" r="2.6"/><circle cx="161.6" cy="118.8" r="2.6"/><circle cx="165.5" cy="117.9" r="2.6"/><circle cx="169.5" cy="117.2" r="2.6"/><circle cx="173.5" cy="116.9" r="2.6"/><circle cx="177.5" cy="116.6" r="2.6"/></g>
<g stroke="#0000ff"><circle cx="149.6" cy="120.8" r="2.6"/><circle cx="153.6" cy="119.7" r="2.6"/><circle cx="157.6" cy="118.7" r="2.6"/><circle cx="161.6" cy="117.8" r="2.6"/><circle cx="165.5" cy="116.9" r="2.6"/><circle cx="169.5" cy="116.0" r="2.6"/><circle cx="173.5" cy="115.2" r="2.6"/><circle cx="177.5" cy="114.5" r="2.6"/><circle cx="181.5" cy="113.9" r="2.6"/><circle cx="185.4" cy="113.3" r="2.6"/><circle cx="189.4" cy="112.8" r="2.6"/><circle cx="193.4" cy="112.2" r="2.6"/><circle cx="197.4" cy="111.7" r="2.6"/></g>
<g stroke="#000000"><circle cx="161.6" cy="113.2" r="2.6"/><circle cx="165.5" cy="112.5" r="2.6"/><circle cx="169.5" cy="112.0" r="2.6"/><circle cx="173.5" cy="111.7" r="2.6"/><circle cx="177.5" cy="111.2" r="2.6"/><circle cx="181.5" cy="110.6" r="2.6"/><circle cx="185.4" cy="110.2" r="2.6"/><circle cx="189.4" cy="109.7" r="2.6"/><circle cx="193.4" cy="109.2" r="2.6"/><circle cx="197.4" cy="108.8" r="2.6"/><circle cx="201.4" cy="107.3" r="2.6"/></g>
<g stroke="#ff0000"><circle cx="157.6" cy="111.0" r="2.6"/><circle cx="161.6" cy="109.9" r="2.6"/><circle cx="165.5" cy="109.2" r="2.6"/><circle cx="169.5" cy="108.7" r="2.6"/><circle cx="173.5" cy="108.2" r="2.6"/><circle cx="177.5" cy="107.8" r="2.6"/><circle cx="181.5" cy="107.5" r="2.6"/><circle cx="185.4" cy="107.3" r="2.6"/><circle cx="189.4" cy="107.0" r="2.6"/><circle cx="193.4" cy="106.8" r="2.6"/><circle cx="197.4" cy="106.4" r="2.6"/><circle cx="201.4" cy="104.4" r="2.6"/><circle cx="205.3" cy="102.7" r="2.6"/><circle cx="209.3" cy="101.0" r="2.6"/><circle cx="213.3" cy="99.5" r="2.6"/><circle cx="217.3" cy="98.1" r="2.6"/></g>
<g stroke="#008b00"><circle cx="161.6" cy="105.6" r="2.6"/><circle cx="165.5" cy="105.2" r="2.6"/><circle cx="169.5" cy="105.0" r="2.6"/><circle cx="173.5" cy="104.8" r="2.6"/><circle cx="177.5" cy="104.6" r="2.6"/><circle cx="181.5" cy="104.4" r="2.6"/><circle cx="185.4" cy="104.3" r="2.6"/><circle cx="189.4" cy="104.2" r="2.6"/><circle cx="193.4" cy="104.1" r="2.6"/><circle cx="197.4" cy="103.8" r="2.6"/><circle cx="201.4" cy="101.9" r="2.6"/><circle cx="205.3" cy="100.3" r="2.6"/><circle cx="209.3" cy="98.6" r="2.6"/><circle cx="213.3" cy="97.1" r="2.6"/><circle cx="217.3" cy="95.5" r="2.6"/></g>
<g stroke="#ffa500"><circle cx="189.4" cy="101.6" r="2.6"/><circle cx="193.4" cy="101.6" r="2.6"/><circle cx="197.4" cy="101.4" r="2.6"/><circle cx="201.4" cy="99.6" r="2.6"/><circle cx="205.3" cy="98.2" r="2.6"/><circle cx="209.3" cy="96.4" r="2.6"/><circle cx="213.3" cy="94.5" r="2.6"/></g>
<g stroke="#0000ff"><circle cx="177.5" cy="98.9" r="2.6"/><circle cx="181.5" cy="99.2" r="2.6"/><circle cx="185.4" cy="99.3" r="2.6"/><circle cx="189.4" cy="99.3" r="2.6"/><circle cx="193.4" cy="99.4" r="2.6"/><circle cx="197.4" cy="99.3" r="2.6"/><circle cx="201.4" cy="97.4" r="2.6"/><circle cx="205.3" cy="95.7" r="2.6"/><circle cx="209.3" cy="93.9" r="2.6"/><circle cx="213.3" cy="91.4" r="2.6"/></g>
<g stroke="#000000"><circle cx="185.4" cy="96.3" r="2.6"/><circle cx="189.4" cy="96.5" r="2.6"/><circle cx="193.4" cy="96.8" r="2.6"/><circle cx="197.4" cy="96.8" r="2.6"/><circle cx="201.4" cy="95.1" r="2.6"/><circle cx="205.3" cy="93.6" r="2.6"/><circle cx="209.3" cy="91.5" r="2.6"/><circle cx="213.3" cy="88.9" r="2.6"/><circle cx="217.3" cy="87.4" r="2.6"/></g>
<g stroke="#ff0000"><circle cx="197.4" cy="95.1" r="2.6"/><circle cx="201.4" cy="93.4" r="2.6"/><circle cx="205.3" cy="91.8" r="2.6"/><circle cx="209.3" cy="89.1" r="2.6"/><circle cx="213.3" cy="86.4" r="2.6"/><circle cx="217.3" cy="85.2" r="2.6"/><circle cx="221.3" cy="84.3" r="2.6"/><circle cx="225.2" cy="83.2" r="2.6"/></g>
<g stroke="#008b00"><circle cx="193.4" cy="91.2" r="2.6"/><circle cx="197.4" cy="91.1" r="2.6"/><circle cx="201.4" cy="89.6" r="2.6"/><circle cx="205.3" cy="88.1" r="2.6"/><circle cx="209.3" cy="86.3" r="2.6"/><circle cx="213.3" cy="83.9" r="2.6"/><circle cx="217.3" cy="82.8" r="2.6"/><circle cx="221.3" cy="81.9" r="2.6"/><circle cx="225.2" cy="81.2" r="2.6"/><circle cx="229.2" cy="80.3" r="2.6"/></g>
<g stroke="#ffa500"><circle cx="197.4" cy="90.5" r="2.6"/><circle cx="201.4" cy="88.7" r="2.6"/><circle cx="205.3" cy="87.0" r="2.6"/><circle cx="209.3" cy="85.1" r="2.6"/><circle cx="213.3" cy="83.1" r="2.6"/><circle cx="217.3" cy="81.3" r="2.6"/><circle cx="221.3" cy="80.1" r="2.6"/><circle cx="225.2" cy="79.2" r="2.6"/><circle cx="229.2" cy="78.5" r="2.6"/><circle cx="233.2" cy="77.7" r="2.6"/><circle cx="237.2" cy="76.8" r="2.6"/></g>
<g stroke="#0000ff"><circle cx="197.4" cy="91.3" r="2.6"/><circle cx="201.4" cy="88.5" r="2.6"/><circle cx="205.3" cy="86.4" r="2.6"/><circle cx="209.3" cy="84.7" r="2.6"/><circle cx="213.3" cy="83.0" r="2.6"/><circle cx="217.3" cy="81.3" r="2.6"/><circle cx="221.3" cy="79.7" r="2.6"/><circle cx="225.2" cy="78.4" r="2.6"/><circle cx="229.2" cy="77.3" r="2.6"/><circle cx="233.2" cy="76.4" r="2.6"/><circle cx="237.2" cy="75.5" r="2.6"/><circle cx="241.2" cy="74.8" r="2.6"/><circle cx="245.1" cy="74.2" r="2.6"/></g>
<g stroke="#000000"><circle cx="229.2" cy="76.1" r="2.6"/><circle cx="233.2" cy="75.1" r="2.6"/><circle cx="237.2" cy="74.3" r="2.6"/><circle cx="241.2" cy="73.7" r="2.6"/><circle cx="245.1" cy="73.2" r="2.6"/><circle cx="249.1" cy="72.6" r="2.6"/><circle cx="253.1" cy="72.3" r="2.6"/></g>
<g stroke="#ff0000"><circle cx="245.1" cy="72.5" r="2.6"/><circle cx="249.1" cy="72.1" r="2.6"/><circle cx="253.1" cy="71.4" r="2.6"/><circle cx="257.1" cy="70.9" r="2.6"/></g>
<g stroke="#008b00"><circle cx="249.1" cy="70.4" r="2.6"/><circle cx="253.1" cy="69.9" r="2.6"/><circle cx="257.1" cy="69.4" r="2.6"/><circle cx="261.1" cy="69.0" r="2.6"/><circle cx="265.0" cy="68.6" r="2.6"/></g>
<g stroke="#ffa500"><circle cx="233.2" cy="71.0" r="2.6"/><circle cx="237.2" cy="69.9" r="2.6"/><circle cx="241.2" cy="69.4" r="2.6"/><circle cx="245.1" cy="69.3" r="2.6"/><circle cx="249.1" cy="69.1" r="2.6"/><circle cx="253.1" cy="69.0" r="2.6"/><circle cx="257.1" cy="68.7" r="2.6"/><circle cx="261.1" cy="68.3" r="2.6"/><circle cx="265.0" cy="67.9" r="2.6"/><circle cx="269.0" cy="67.5" r="2.6"/><circle cx="273.0" cy="67.0" r="2.6"/></g>
<g stroke="#0000ff"><circle cx="237.2" cy="70.4" r="2.6"/><circle cx="241.2" cy="69.7" r="2.6"/><circle cx="245.1" cy="69.2" r="2.6"/><circle cx="249.1" cy="68.8" r="2.6"/><circle cx="253.1" cy="68.4" r="2.6"/><circle cx="257.1" cy="67.9" r="2.6"/><circle cx="261.1" cy="67.5" r="2.6"/><circle cx="265.0" cy="67.0" r="2.6"/><circle cx="269.0" cy="66.5" r="2.6"/><circle cx="273.0" cy="66.0" r="2.6"/><circle cx="277.0" cy="65.4" r="2.6"/><circle cx="281.0" cy="64.8" r="2.6"/><circle cx="284.9" cy="64.2" r="2.6"/></g>
<g stroke="#000000"><circle cx="233.2" cy="70.7" r="2.6"/><circle cx="237.2" cy="69.8" r="2.6"/><circle cx="241.2" cy="69.2" r="2.6"/><circle cx="245.1" cy="68.5" r="2.6"/><circle cx="249.1" cy="68.0" r="2.6"/><circle cx="253.1" cy="67.5" r="2.6"/><circle cx="257.1" cy="67.1" r="2.6"/><circle cx="261.1" cy="66.6" r="2.6"/><circle cx="265.0" cy="66.1" r="2.6"/><circle cx="269.0" cy="65.6" r="2.6"/><circle cx="273.0" cy="65.0" r="2.6"/><circle cx="277.0" cy="64.4" r="2.6"/><circle cx="281.0" cy="63.8" r="2.6"/><circle cx="284.9" cy="63.1" r="2.6"/><circle cx="288.9" cy="61.9" r="2.6"/><circle cx="292.9" cy="60.8" r="2.6"/><circle cx="296.9" cy="59.7" r="2.6"/></g>
<g stroke="#ff0000"><circle cx="249.1" cy="61.9" r="2.6"/><circle cx="253.1" cy="62.2" r="2.6"/><circle cx="257.1" cy="62.4" r="2.6"/><circle cx="261.1" cy="62.3" r="2.6"/><circle cx="265.0" cy="62.0" r="2.6"/><circle cx="269.0" cy="61.5" r="2.6"/><circle cx="273.0" cy="60.9" r="2.6"/><circle cx="277.0" cy="60.3" r="2.6"/><circle cx="281.0" cy="59.6" r="2.6"/><circle cx="284.9" cy="58.9" r="2.6"/><circle cx="296.9" cy="54.9" r="2.6"/><circle cx="300.9" cy="53.7" r="2.6"/></g>
<g stroke="#008b00"><circle cx="265.0" cy="60.0" r="2.6"/><circle cx="269.0" cy="59.7" r="2.6"/><circle cx="273.0" cy="59.3" r="2.6"/><circle cx="277.0" cy="58.8" r="2.6"/><circle cx="281.0" cy="58.2" r="2.6"/><circle cx="284.9" cy="57.6" r="2.6"/><circle cx="296.9" cy="53.8" r="2.6"/><circle cx="300.9" cy="52.6" r="2.6"/><circle cx="304.8" cy="51.5" r="2.6"/></g>
<g stroke="#ffa500"><circle cx="273.0" cy="58.0" r="2.6"/><circle cx="277.0" cy="58.0" r="2.6"/><circle cx="281.0" cy="57.6" r="2.6"/><circle cx="284.9" cy="56.6" r="2.6"/><circle cx="296.9" cy="52.9" r="2.6"/><circle cx="300.9" cy="52.2" r="2.6"/><circle cx="304.8" cy="51.0" r="2.6"/><circle cx="308.8" cy="49.7" r="2.6"/><circle cx="312.8" cy="48.7" r="2.6"/><circle cx="316.8" cy="48.2" r="2.6"/><circle cx="320.8" cy="47.6" r="2.6"/></g>
<g stroke="#0000ff"><circle cx="308.8" cy="48.0" r="2.6"/><circle cx="312.8" cy="46.8" r="2.6"/><circle cx="316.8" cy="45.8" r="2.6"/></g>
<g stroke="#000000"><circle cx="316.8" cy="43.0" r="2.6"/><circle cx="320.8" cy="42.2" r="2.6"/><circle cx="324.7" cy="41.3" r="2.6"/></g>
<g stroke="#ff0000"><circle cx="320.8" cy="41.5" r="2.6"/><circle cx="324.7" cy="40.5" r="2.6"/><circle cx="328.7" cy="39.8" r="2.6"/><circle cx="332.7" cy="39.0" r="2.6"/></g>
<g stroke="#008b00"><circle cx="324.7" cy="43.1" r="2.6"/><circle cx="328.7" cy="42.2" r="2.6"/><circle cx="332.7" cy="41.4" r="2.6"/><circle cx="336.7" cy="40.6" r="2.6"/></g>
</g>
<g fill="none" stroke="#000" stroke-width="1.6">
<rect x="34.2" y="182.9" width="79.8" height="125.5"/>
<rect x="64.9" y="89.4" width="178.8" height="94.4"/>
<rect x="162.7" y="25.1" width="182.9" height="65.2"/>
</g>
<rect x="34.2" y="2.0" width="437.8" height="306.35" fill="none" stroke="#000" stroke-width="2.2"/>
<path d="M34.2,308.35v-9.1M34.2,2.0v9.1M113.8,308.35v-9.1M113.8,2.0v9.1M193.4,308.35v-9.1M193.4,2.0v9.1M273.0,308.35v-9.1M273.0,2.0v9.1M352.6,308.35v-9.1M352.6,2.0v9.1M432.2,308.35v-9.1M432.2,2.0v9.1M34.2,277.8h9.1M472.0,277.8h-9.1M34.2,216.5h9.1M472.0,216.5h-9.1M34.2,155.2h9.1M472.0,155.2h-9.1M34.2,93.9h9.1M472.0,93.9h-9.1M34.2,32.6h9.1M472.0,32.6h-9.1" stroke="#000" stroke-width="1.85" fill="none"/>
<path d="M54.1,308.35v-4.6M54.1,2.0v4.8M74.0,308.35v-4.6M74.0,2.0v4.8M93.9,308.35v-4.6M93.9,2.0v4.8M133.7,308.35v-4.6M133.7,2.0v4.8M153.6,308.35v-4.6M153.6,2.0v4.8M173.5,308.35v-4.6M173.5,2.0v4.8M213.3,308.35v-4.6M213.3,2.0v4.8M233.2,308.35v-4.6M233.2,2.0v4.8M253.1,308.35v-4.6M253.1,2.0v4.8M292.9,308.35v-4.6M292.9,2.0v4.8M312.8,308.35v-4.6M312.8,2.0v4.8M332.7,308.35v-4.6M332.7,2.0v4.8M372.5,308.35v-4.6M372.5,2.0v4.8M392.4,308.35v-4.6M392.4,2.0v4.8M412.3,308.35v-4.6M412.3,2.0v4.8M452.1,308.35v-4.6M452.1,2.0v4.8M472.0,308.35v-4.6M472.0,2.0v4.8M34.2,247.2h4.8M472.0,247.2h-4.8M34.2,185.9h4.8M472.0,185.9h-4.8M34.2,124.5h4.8M472.0,124.5h-4.8M34.2,63.2h4.8M472.0,63.2h-4.8" stroke="#000" stroke-width="1.6" fill="none"/>
<g font-family="Liberation Serif, serif" fill="#000">
<text x="33.9" y="322.3" font-size="13.6" text-anchor="middle">0</text>
<text x="113.5" y="322.3" font-size="13.6" text-anchor="middle">40</text>
<text x="193.1" y="322.3" font-size="13.6" text-anchor="middle">80</text>
<text x="272.7" y="322.3" font-size="13.6" text-anchor="middle">120</text>
<text x="352.3" y="322.3" font-size="13.6" text-anchor="middle">160</text>
<text x="431.9" y="322.3" font-size="13.6" text-anchor="middle">200</text>
<text x="30.4" y="282.5" font-size="13.3" text-anchor="end">2</text>
<text x="30.4" y="221.2" font-size="13.3" text-anchor="end">3</text>
<text x="30.4" y="159.9" font-size="13.3" text-anchor="end">4</text>
<text x="30.4" y="98.6" font-size="13.3" text-anchor="end">5</text>
<text x="30.4" y="37.3" font-size="13.3" text-anchor="end">6</text>
<text x="188.5" y="337.5" font-size="16">Neutron</text>
<text x="249.6" y="337.5" font-size="15.9">number</text>
<text x="305.8" y="337.5" font-size="16">N</text>
<text transform="translate(13.2,222.0) rotate(-90)" font-size="17.0">Charge</text>
<text transform="translate(13.2,168.0) rotate(-90)" font-size="16.6">radii</text>
<text transform="translate(13.2,134.0) rotate(-90)" font-size="18">r</text>
<text transform="translate(18.9,125.0) rotate(-90)" font-size="12.5">c</text>
<text transform="translate(13.2,117.8) rotate(-90)" font-size="17.0">[fm]</text>
<text x="270" y="134.7" font-size="19.5">theory - lines</text>
<text x="270" y="151.8" font-size="19.5">experiment - circles</text>
<text x="281.5" y="184.7" font-size="19.5" font-weight="bold" fill="#000000">black = *2</text>
<text x="280.8" y="201.1" font-size="19.5" font-weight="bold" fill="#ff0000">red = *4</text>
<text x="280.2" y="217.0" font-size="19.5" font-weight="bold" fill="#008b00">green = *6</text>
<text x="280.0" y="232.6" font-size="19.5" font-weight="bold" fill="#ffa500">orange = *8</text>
<text x="281.5" y="249.3" font-size="19.5" font-weight="bold" fill="#0000ff">blue = *0</text>
<text x="96.5" y="296.8" font-size="18.4" font-weight="bold">A</text>
<text x="225.9" y="178.7" font-size="19" font-weight="bold">B</text>
<text x="325.8" y="85.1" font-size="19" font-weight="bold">C</text>
<text x="417.5" y="283.3" font-size="19.3" font-weight="bold">(a)</text>
</g>
</svg>
</body></html>
